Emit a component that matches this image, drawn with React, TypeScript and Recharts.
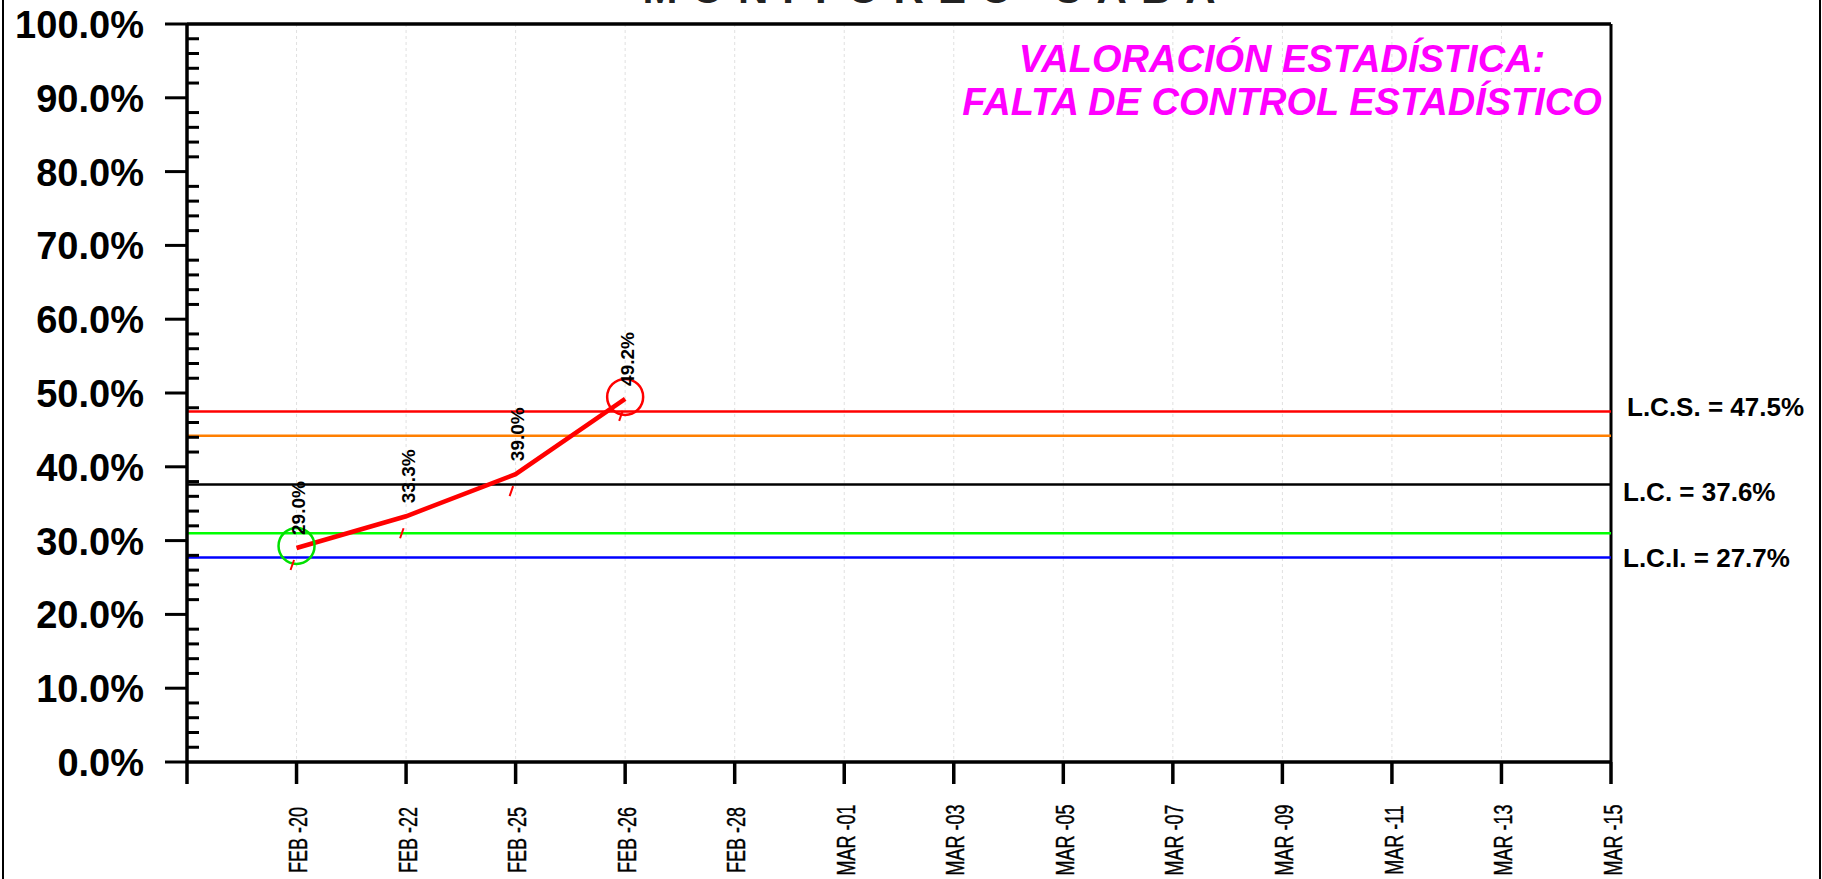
import React from "react";
import {
  CartesianGrid,
  LabelList,
  Line,
  LineChart,
  ReferenceLine,
  XAxis,
  YAxis,
} from "recharts";

// x-axis dates (position 0 is the empty slot at the y axis)
const categories = [
  "FEB -20",
  "FEB -22",
  "FEB -25",
  "FEB -26",
  "FEB -28",
  "MAR -01",
  "MAR -03",
  "MAR -05",
  "MAR -07",
  "MAR -09",
  "MAR -11",
  "MAR -13",
  "MAR -15",
];
// measured % per date, only the first four have values so far
const values = [29.0, 33.3, 39.0, 49.2];

// control limits
const LCS = 47.5;
const LC = 37.6;
const LCI = 27.7;
const UPPER_2S = 44.2;
const LOWER_2S = 31.0;

// points circled on the chart
const circledRed = ["FEB -26"];
const circledGreen = ["FEB -20"];

const title = "MONITOREO CABA";
const verdictLines = ["VALORACIÓN ESTADÍSTICA:", "FALTA DE CONTROL ESTADÍSTICO"];

const xTicks = [0, 1, 2, 3, 4, 5, 6, 7, 8, 9, 10, 11, 12, 13];
const yTicks = Array.from({ length: 51 }, (_, i) => i * 2);

const FONT = "'Liberation Sans', Arial, Helvetica, sans-serif";
const W = 1822;
const H = 879;
const PLOT_LEFT = 187;

const data = categories.map((label, i) => ({
  x: i + 1,
  label,
  value: values[i] ?? null,
}));

function YTick(props: any) {
  const { y, payload } = props;
  const v = payload.value as number;
  if (v % 10 !== 0) {
    return (
      <line x1={PLOT_LEFT} x2={PLOT_LEFT + 12} y1={y} y2={y} stroke="#000" strokeWidth={3} />
    );
  }
  return (
    <g>
      <line x1={PLOT_LEFT - 22} x2={PLOT_LEFT} y1={y} y2={y} stroke="#000" strokeWidth={3} />
      <text
        x={144}
        y={y}
        dy={14}
        textAnchor="end"
        fontFamily={FONT}
        fontWeight="bold"
        fontSize={38}
        fill="#000"
      >
        {v.toFixed(1)}%
      </text>
    </g>
  );
}

function XTick(props: any) {
  const { x, payload } = props;
  const i = payload.value as number;
  if (i === 0) return null;
  const tx = x + 2;
  // dates read bottom-to-top, condensed like the original export
  return (
    <text
      x={0}
      y={0}
      transform={`translate(${tx} 840) rotate(-90) scale(0.72 1)`}
      textAnchor="middle"
      dominantBaseline="central"
      fontFamily={FONT}
      fontSize={25}
      fill="#000"
      stroke="#000"
      strokeWidth={0.4}
    >
      {categories[i - 1]}
    </text>
  );
}

function PointMark(props: any) {
  const { cx, cy, payload } = props;
  if (cx == null || cy == null || payload?.value == null) return <g />;
  let ring: string | null = null;
  if (circledRed.includes(payload.label)) ring = "#FF0000";
  if (circledGreen.includes(payload.label)) ring = "#00E000";
  return (
    <g>
      {ring && (
        <circle cx={cx} cy={cy - 2} r={18} fill="none" stroke={ring} strokeWidth={2.5} />
      )}
      <line x1={cx - 6} y1={cy + 22} x2={cx - 2.5} y2={cy + 12} stroke="#FF0000" strokeWidth={2} />
    </g>
  );
}

function ValueLabel(props: any) {
  const { x, y, value } = props;
  if (value == null || x == null || y == null) return null;
  const tx = x + 2;
  const ty = y - 13;
  return (
    <text
      x={tx}
      y={ty}
      transform={`rotate(-90 ${tx} ${ty})`}
      textAnchor="start"
      dominantBaseline="central"
      fontFamily={FONT}
      fontWeight="bold"
      fontSize={19}
      fill="#000"
    >
      {Number(value).toFixed(1)}%
    </text>
  );
}

function limitLabel(text: string, dy: number, dx: number) {
  return (p: any) => {
    const vb = p.viewBox || {};
    return (
      <text
        x={vb.x + vb.width + dx}
        y={vb.y + dy}
        dy={9}
        fontFamily={FONT}
        fontWeight="bold"
        fontSize={26}
        fill="#000"
      >
        {text}
      </text>
    );
  };
}

export default function App() {
  return (
    <div
      style={{
        position: "absolute",
        left: 0,
        top: 0,
        width: W,
        height: H,
        overflow: "hidden",
        background: "#fff",
      }}
    >
      <div style={{ position: "absolute", left: 2, top: 0, width: 2, height: H, background: "#000" }} />
      <div style={{ position: "absolute", left: 1819, top: 0, width: 2, height: H, background: "#000" }} />
      <LineChart
        width={W}
        height={H}
        data={data}
        margin={{ top: 24, right: W - 1611, bottom: 0, left: 0 }}
      >
        <text
          x={936}
          y={3}
          textAnchor="middle"
          fontFamily={FONT}
          fontWeight="bold"
          fontSize={42}
          letterSpacing={14}
          fill="#222"
        >
          {title}
        </text>
        <text
          x={1282}
          y={72}
          textAnchor="middle"
          fontFamily={FONT}
          fontWeight="bold"
          fontStyle="italic"
          fontSize={38}
          fill="#FF00FF"
        >
          {verdictLines[0]}
        </text>
        <text
          x={1282}
          y={115}
          textAnchor="middle"
          fontFamily={FONT}
          fontWeight="bold"
          fontStyle="italic"
          fontSize={38}
          fill="#FF00FF"
        >
          {verdictLines[1]}
        </text>
        <CartesianGrid
          vertical
          horizontal={false}
          stroke="#e0e0e0"
          strokeDasharray="3 3"
        />
        <XAxis
          dataKey="x"
          type="number"
          domain={[0, 13]}
          ticks={xTicks}
          interval={0}
          height={H - 762}
          tickSize={22}
          tickMargin={11}
          tickLine={{ stroke: "#000", strokeWidth: 3.5 }}
          axisLine={{ stroke: "#000", strokeWidth: 3.5 }}
          tick={<XTick />}
        />
        <YAxis
          type="number"
          domain={[0, 100]}
          ticks={yTicks}
          interval={0}
          width={PLOT_LEFT}
          tickLine={false}
          axisLine={{ stroke: "#000", strokeWidth: 3.5 }}
          tick={<YTick />}
        />
        <ReferenceLine y={100} stroke="#000" strokeWidth={3.5} />
        <ReferenceLine x={13} stroke="#000" strokeWidth={3} />
        <ReferenceLine
          y={LCS}
          stroke="#FF0000"
          strokeWidth={2.5}
          label={limitLabel(`L.C.S. = ${LCS.toFixed(1)}%`, -4, 16)}
        />
        <ReferenceLine y={UPPER_2S} stroke="#FF7F00" strokeWidth={2.5} />
        <ReferenceLine
          y={LC}
          stroke="#000"
          strokeWidth={2.5}
          label={limitLabel(`L.C. = ${LC.toFixed(1)}%`, 7, 12)}
        />
        <ReferenceLine y={LOWER_2S} stroke="#00FF00" strokeWidth={2.5} />
        <ReferenceLine
          y={LCI}
          stroke="#0000FF"
          strokeWidth={2.5}
          label={limitLabel(`L.C.I. = ${LCI.toFixed(1)}%`, 0, 12)}
        />
        <Line
          type="linear"
          dataKey="value"
          stroke="#FF0000"
          strokeWidth={4.5}
          dot={<PointMark />}
          activeDot={false}
          isAnimationActive={false}
        >
          <LabelList dataKey="value" content={<ValueLabel />} />
        </Line>
      </LineChart>
    </div>
  );
}
